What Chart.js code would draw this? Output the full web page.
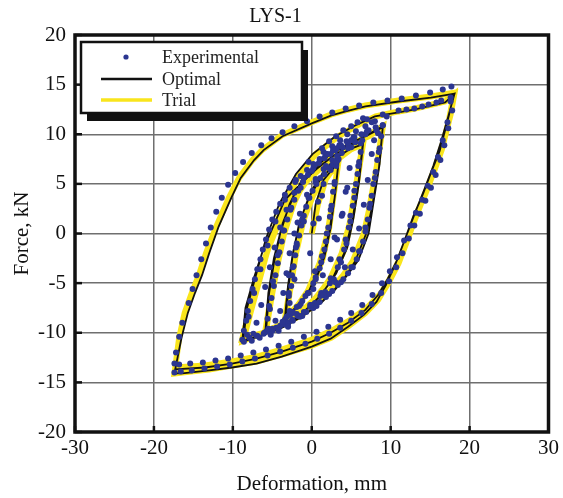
<!DOCTYPE html>
<html>
<head>
<meta charset="utf-8">
<title>LYS-1</title>
<script src="https://cdn.jsdelivr.net/npm/chart.js@4.4.1/dist/chart.umd.min.js"></script>
<style>
  html, body { margin: 0; padding: 0; background: #fff; }
  #wrap { width: 563px; height: 498px; }
</style>
</head>
<body>
<div id="wrap"><canvas id="chart" width="563" height="498"></canvas></div>
<script>
// axis ranges (mm / kN)
const X_RANGE = [-30, 30];
const Y_RANGE = [-20, 20];
const X_STEP = 10;
const Y_STEP = 5;

// "Trial" model response (yellow)
const trialPath = [
  [0,0],[0.8,3],[1.8,5.5],[3.4,7.3],
  [2.8,4],[2.2,0.5],[1.4,-2.5],[0.2,-5],[-1.5,-7],[-3.3,-8.5],
  [-2.6,-5],[-2.0,-2],[-1.2,1],[0,3.6],[1.5,5.6],[3.4,7.3],
  [2.7,3.5],[2.0,0],[1.0,-3],[-0.5,-5.8],[-2,-7.5],[-3.4,-8.6],
  [-2.7,-5.2],[-2.0,-2],[-1,1.5],[0.5,4.5],[2,6.5],[3.5,7.6],[5,8.5],[6.5,9.0],
  [5.7,5],[5.0,1.5],[4.2,-1.5],[2.8,-4],[0.8,-6.3],[-1.5,-8],[-3.8,-9.2],[-5.8,-9.8],
  [-5.0,-6],[-4.3,-3],[-3.5,0],[-2.3,3],[-0.8,5.5],[1.2,7.2],[3.5,8.3],[6.5,9.2],
  [5.6,4.8],[4.8,1],[3.8,-2],[2.2,-4.8],[0,-7],[-2.5,-8.7],[-5.9,-9.9],
  [-5.1,-6],[-4.3,-2.5],[-3.2,1],[-1.8,4],[0,6],[2.5,7.8],[5,9],[7.2,9.8],[9,10.7],
  [8.3,7],[7.4,3],[6.8,0],[5.5,-2.7],[4,-4.2],[2.5,-5.6],[0.5,-7],[-1.5,-8.2],[-4.2,-9.4],[-6.5,-10.1],[-8.8,-10.6],
  [-7.8,-7.5],[-6.7,-4.4],[-5.5,-1.5],[-4.5,0.5],[-2.9,3.4],[-1,5],[1,6.5],[3,7.8],[6.3,9.5],[9.0,10.8],
  [8.2,6.5],[7.3,2.5],[6.6,0],[5.2,-2.8],[3.5,-4.8],[1,-6.8],[-1.5,-8.3],[-4.5,-9.5],[-8.7,-10.8],
  [-7.6,-7.5],[-6.4,-4],[-5.2,-0.5],[-3.5,3],[-1.5,6],[0.5,8],[3.4,9.8],[6,11],[8.1,11.8],[11,12.3],[13.1,12.6],[16.9,13.3],[18,14],
  [17.4,11.5],[16.5,8.5],[15.6,6.5],[14.4,4],[13.3,2],[12.2,-0.5],[11,-3],[9.7,-5],[8.4,-6.7],[6.8,-8],[4.7,-9.3],[2.5,-10.5],[0,-11.3],[-3.8,-12.2],[-7,-12.9],[-10.1,-13.3],[-13,-13.7],[-16.4,-14],[-17.4,-14.1],
  [-16.8,-10.5],[-16.1,-8],[-15.2,-6],[-14.3,-4.2],[-13.4,-2],[-12.1,0.7],[-10.5,3.6],[-9.2,5.6],[-7.5,7.4],[-6.3,8.4],[-3.8,9.9],[0,11.2],[2.5,12],[4.3,12.4],[6.8,12.9],[11,13.4],[15.1,13.8],[18.1,14.2],
  [17.6,12],[16.8,9.5],[15.8,7],[14.6,4.5],[13.5,2.3],[12.4,0],[11.2,-2.5],[10,-4.4],[8.8,-6],[7,-7.5],[4.7,-8.8],[2.5,-9.8],[0,-10.7],[-3.8,-11.7],[-7,-12.4],[-10.1,-12.9],[-13.5,-13.3],[-17.4,-13.5]
];

// "Optimal" model response (black)
const optimalPath = [
  [0,0],[0.5,3],[1.5,5.4],[3.4,7.2],
  [3.0,4.2],[2.4,0.6],[1.6,-2.4],[0.4,-4.9],[-1.3,-6.9],[-3.3,-8.4],
  [-2.9,-5.1],[-2.4,-2.1],[-1.6,1],[-0.4,3.6],[1.2,5.6],[3.4,7.3],
  [2.9,3.6],[2.2,0.1],[1.2,-2.9],[-0.3,-5.7],[-1.8,-7.4],[-3.4,-8.5],
  [-3.0,-5.2],[-2.4,-2],[-1.4,1.5],[0.1,4.5],[1.7,6.5],[3.3,7.7],[4.8,8.5],[6.5,9.0],
  [6.0,5.2],[5.3,1.6],[4.5,-1.4],[3.1,-4],[1.1,-6.3],[-1.3,-8.1],[-3.6,-9.3],[-5.8,-9.9],
  [-5.4,-6],[-4.8,-3],[-4.0,0],[-2.8,3],[-1.2,5.5],[0.8,7.2],[3.2,8.4],[6.5,9.3],
  [5.9,5],[5.1,1.1],[4.1,-2],[2.5,-4.8],[0.3,-7],[-2.3,-8.8],[-5.9,-10],
  [-5.5,-6],[-4.8,-2.5],[-3.7,1],[-2.2,4],[-0.4,6],[2.2,7.9],[4.8,9.1],[7.1,9.9],[9,10.7],
  [8.6,7],[7.8,3],[7.2,0],[5.9,-2.7],[4.4,-4.3],[2.8,-5.8],[0.8,-7.2],[-1.3,-8.4],[-4,-9.6],[-6.4,-10.3],[-8.8,-10.8],
  [-8.4,-7.5],[-7.3,-4.4],[-6.1,-1.5],[-5.0,0.5],[-3.4,3.4],[-1.4,5],[0.6,6.5],[2.7,7.8],[6.0,9.5],[9.0,10.8],
  [8.5,6.5],[7.6,2.5],[6.9,0],[5.5,-2.8],[3.8,-4.9],[1.3,-6.9],[-1.3,-8.4],[-4.3,-9.7],[-8.7,-10.9],
  [-8.2,-7.5],[-7.0,-4],[-5.8,-0.5],[-4.1,3],[-2.0,6],[0.1,8],[3.0,9.8],[5.8,11],[8.0,11.8],[11,12.2],[13.1,12.5],[16.9,13.2],[18,14],
  [17.2,11.3],[16.2,8.3],[15.2,6.3],[14.0,3.8],[12.9,1.8],[11.8,-0.6],[10.6,-3.1],[9.4,-5.2],[8.2,-6.9],[6.6,-8.2],[4.6,-9.4],[2.4,-10.6],[0,-11.4],[-3.8,-12.4],[-7,-13.1],[-10.1,-13.5],[-13,-13.8],[-16.4,-14.1],[-17.4,-14.1],
  [-16.5,-10.5],[-15.7,-8],[-14.8,-6],[-13.9,-4.2],[-13,-2],[-11.8,0.7],[-10.2,3.6],[-9,5.6],[-7.3,7.4],[-6.1,8.4],[-3.7,9.8],[0,11.1],[2.5,11.9],[4.3,12.3],[6.8,12.8],[11,13.3],[15.1,13.7],[18.1,14.1],
  [17.3,11.8],[16.4,9.3],[15.4,6.8],[14.2,4.3],[13.1,2.1],[12,-0.2],[10.8,-2.7],[9.6,-4.6],[8.4,-6.2],[6.8,-7.7],[4.6,-9],[2.4,-10],[0,-10.9],[-3.8,-11.9],[-7,-12.6],[-10.1,-13.1],[-13.5,-13.5],[-17.4,-13.7]
];

// experimental readings, split by amplitude
const expSmall = [
  [0.2,1],[0.8,3.2],[1.5,5],[2.4,6.4],[3.3,7.4],
  [2.9,5],[2.5,2.8],[2.1,0.6],[1.6,-1.6],[1,-3.5],[0.2,-5],[-0.8,-6.3],[-1.9,-7.4],[-2.9,-8.2],[-3.3,-8.6],
  [-2.9,-6.3],[-2.5,-4.2],[-2.1,-2.2],[-1.6,-0.2],[-1,1.8],[-0.3,3.6],[0.6,5],[1.6,6],[2.6,6.9],[3.4,7.5],
  [2.9,5.2],[2.4,2.4],[1.9,0],[1.3,-2.3],[0.5,-4.4],[-0.5,-6],[-1.6,-7.3],[-2.6,-8.1],[-3.4,-8.7],
  [-2.9,-6],[-2.4,-3.4],[-1.9,-1],[-1.2,1.4],[-0.4,3.6],[0.5,5.2],[1.5,6.5],[2.6,7.4],[3.8,8.1],[5,8.7],[6.2,9.1],
  [3.1,6.8],[2.7,4.2],[2.3,1.7],[1.8,-0.8],[1.2,-2.9],[0.5,-4.6],[-0.4,-6],[-1.4,-7.1],[-2.4,-7.9],[-3.2,-8.4],
  [-2.8,-7],[-2.6,-5.3],[-2.3,-3.3],[-1.9,-1.2],[-1.3,0.8],[-0.7,2.7],[0.1,4.3],[1.1,5.6],[2.1,6.6],[3.1,7.2],
  [0.4,-3.8],[-0.2,-2],[0.9,1.5],[1.3,3.8],[-1.8,1.1],[-2.2,-4.6]
];
const expMid = [
  [6.0,7.2],[5.6,5],[5.2,2.8],[4.7,0.6],[4.1,-1.6],[3.3,-3.4],[2.3,-5],[1.1,-6.3],[-0.2,-7.4],[-1.6,-8.3],[-3,-9],[-4.5,-9.5],[-5.8,-9.9],
  [-5.3,-7.6],[-4.8,-5.3],[-4.3,-3],[-3.8,-0.8],[-3.1,1.4],[-2.2,3.4],[-1.1,5.2],[0.2,6.6],[1.6,7.6],[3,8.4],[4.6,9],[6.4,9.4],
  [5.9,6.8],[5.4,4.3],[4.9,1.8],[4.3,-0.6],[3.5,-2.6],[2.4,-4.5],[1.2,-6],[-0.2,-7.2],[-1.8,-8.3],[-3.4,-9.1],[-5,-9.6],[-6,-10],
  [-5.4,-7.3],[-4.9,-4.8],[-4.3,-2.2],[-3.6,0.3],[-2.6,2.6],[-1.4,4.6],[0,6.3],[1.6,7.6],[3.2,8.6],[5,9.4],[6.8,10],[8.2,10.4],[9,10.9],
  [6.2,8.2],[5.8,6],[5.4,3.6],[4.9,1.2],[4.4,-1],[3.7,-2.9],[2.8,-4.6],[1.7,-5.9],[0.4,-7],[-1,-7.9],[-2.5,-8.7],[-4,-9.3],[-5.4,-9.7],
  [-5.6,-8.6],[-5.1,-6.5],[-4.6,-4.2],[-4.1,-1.9],[-3.5,0.3],[-2.7,2.4],[-1.7,4.3],[-0.5,5.9],[0.9,7.1],[2.4,8],[3.9,8.7],[5.5,9.2],
  [4.5,4.6],[3.9,2],[2.9,-0.4],[-2.9,-4.2],[-2,-1.4],[-1,1.2]
];
const expLarge = [
  [8.6,8.6],[8.1,6.2],[7.6,3.8],[7.1,1.4],[6.5,-0.8],[5.7,-2.6],[4.6,-4],[3.3,-5.2],[1.8,-6.4],[0.2,-7.5],[-1.5,-8.4],[-3.3,-9.2],[-5.2,-9.8],[-7,-10.3],[-8.8,-10.7],
  [-8.3,-8.8],[-7.8,-6.8],[-7.2,-4.6],[-6.5,-2.6],[-5.8,-0.6],[-5,1.4],[-4,3],[-2.8,4.6],[-1.4,5.8],[0.2,7],[1.8,8],[3.5,8.9],[5.3,9.7],[7.2,10.4],[9,10.9],
  [8.5,8.2],[8,5.6],[7.4,3],[6.8,0.6],[6,-1.8],[5,-3.4],[3.7,-4.9],[2.2,-6.1],[0.6,-7.3],[-1.2,-8.3],[-3,-9.1],[-5,-9.8],[-6.9,-10.3],[-8.6,-10.9],
  [-8,-8.4],[-7.3,-6],[-6.5,-3.6],[-5.6,-1.2],[-4.6,1.2],[-3.4,3.4],[-2,5.4],[-0.4,7.2],[1.3,8.6],[3.1,9.8],[5,10.8],[7,11.5],[9,12],[11,12.4],[13,12.6],[14.8,13],[16.4,13.4],[17.6,13.7],
  [8.8,9.8],[8.3,7.4],[7.8,5],[7.3,2.6],[6.8,0.2],[6.1,-1.8],[5.2,-3.4],[4,-4.6],[2.6,-5.8],[1,-6.9],[-0.7,-7.9],[-2.4,-8.8],[-4.2,-9.5],[-6.1,-10.1],[-7.9,-10.5],
  [-8.6,-9.8],[-8.1,-7.8],[-7.5,-5.6],[-6.9,-3.6],[-6.2,-1.6],[-5.4,0.4],[-4.5,2.2],[-3.4,3.9],[-2.1,5.2],[-0.6,6.4],[1,7.5],[2.7,8.4],[4.4,9.3],[6.3,10],[8.1,10.7],
  [5.8,11.2],[4,10.4],[2.2,9.3],[6.5,11.6],[8,11.3],[9.5,11.8],[12,12.5],[14,12.8],[15.8,13.2]
];
// extra readings where the inner cycles overlap
const expDense = [
  [-7.0,-9.0],[-6.4,-7.2],[-5.9,-5.4],[-5.3,-3.4],[-4.7,-1.4],[-4.0,0.6],[-3.2,2.4],[-2.2,4.1],[-1.0,5.6],[0.4,6.9],[2.0,8.0],[3.7,8.9],[5.4,9.7],[7.0,10.3],
  [-4.0,-7.8],[-3.6,-6.0],[-3.2,-4.0],[-2.8,-2.0],[-2.2,0.0],[-1.5,2.0],[-0.6,3.9],[0.5,5.5],[1.8,6.8],[3.2,7.8],[4.6,8.6],
  [7.6,8.0],[7.1,5.4],[6.6,2.9],[6.0,0.5],[5.2,-1.6],[4.2,-3.4],[3.0,-4.9],[1.5,-6.2],[-0.1,-7.2],[-1.9,-8.1],[-3.7,-8.9],[-5.5,-9.6],[-7.4,-10.1],
  [4.8,6.6],[4.3,4.2],[3.8,1.8],[3.2,-0.6],[2.4,-2.6],[1.4,-4.2],[0.2,-5.6],[-1.2,-6.8],[-2.8,-7.8],[-4.6,-8.8],
  [4.5,10.0],[5.6,10.3],[6.8,10.8],[7.6,11.2],[3.6,9.4],[2.6,8.8],[1.5,8.2],[8.4,10.1],[7.9,9.4],
  [-7.6,-10.8],[-6.6,-10.5],[-5.2,-10.2],[-4.2,-9.8],[-3.0,-9.4],[-8.2,-10.2]
];
const expBig = [
  [17.8,12.4],[17.3,10.6],[16.8,8.9],[16.3,7.4],[15.7,5.9],[15.1,4.6],[14.4,3.3],[13.7,2],[13,0.8],[12.3,-0.5],[11.5,-2],[10.7,-3.4],[9.8,-4.8],[8.8,-6],[7.6,-7.1],[6.3,-8],[5,-8.8],[3.6,-9.5],[2.2,-10.1],[0.7,-10.6],[-0.8,-11.1],[-2.4,-11.5],[-4,-11.9],[-5.6,-12.3],[-7.2,-12.6],[-8.8,-12.9],[-10.4,-13.2],[-12,-13.4],[-13.6,-13.6],[-15.2,-13.8],[-16.6,-13.9],[-17.4,-14],
  [-17.2,-12],[-16.8,-10.4],[-16.4,-9],[-15.6,-7],[-15.1,-5.6],[-14.6,-4.2],[-14,-2.6],[-13.4,-1],[-12.8,0.6],[-12.1,2.2],[-11.4,3.6],[-10.6,4.9],[-9.7,6.1],[-8.7,7.2],[-7.6,8.1],[-6.4,8.9],[-5.1,9.6],[-3.7,10.2],[-2.2,10.8],[-0.6,11.3],[1,11.8],[2.6,12.2],[4.3,12.6],[6,12.9],[7.8,13.2],[9.6,13.4],[11.4,13.6],[13.2,13.9],[15,14.2],[16.6,14.5],[17.7,14.8],
  [17.6,13.3],[17.2,11.2],[16.6,9.4],[16,7.7],[15.4,6.2],[14.7,4.8],[14,3.4],[13.2,2.1],[12.5,0.8],[11.7,-0.7],[10.8,-2.4],[9.9,-3.8],[8.9,-5],[7.7,-6.2],[6.4,-7.2],[5,-8],[3.6,-8.7],[2.1,-9.4],[0.6,-9.9],[-1,-10.4],[-2.6,-10.9],[-4.2,-11.3],[-5.8,-11.7],[-7.4,-12],[-9,-12.3],[-10.6,-12.6],[-12.2,-12.8],[-13.8,-13],[-15.4,-13.1],[-16.8,-13.2],[-17.4,-13.1]
];

const SERIF = "'Liberation Serif', 'DejaVu Serif', serif";
const DOT_COLOR = "#2b3590";
const TRIAL_COLOR = "#f9e51c";

function toXY(pairs) {
  return pairs.map(([x, y]) => ({ x, y }));
}

// frame + inward tick marks
const framePlugin = {
  id: "frame",
  afterDatasetsDraw(chart) {
    const { ctx, chartArea: a, scales } = chart;
    ctx.save();
    ctx.strokeStyle = "#111";
    ctx.lineWidth = 2.5;
    scales.x.ticks.forEach((t) => {
      const px = scales.x.getPixelForValue(t.value);
      ctx.beginPath();
      ctx.moveTo(px, a.bottom);
      ctx.lineTo(px, a.bottom - 6);
      ctx.stroke();
    });
    scales.y.ticks.forEach((t) => {
      const py = scales.y.getPixelForValue(t.value);
      ctx.beginPath();
      ctx.moveTo(a.left, py);
      ctx.lineTo(a.left + 7, py);
      ctx.stroke();
    });
    ctx.lineWidth = 3.5;
    ctx.strokeRect(a.left, a.top, a.right - a.left, a.bottom - a.top);
    ctx.restore();
  },
};

// boxed legend with drop shadow, inside the plot
const boxLegend = {
  id: "boxLegend",
  afterDraw(chart) {
    const { ctx, chartArea: a } = chart;
    const x = a.left + 6, y = a.top + 7, w = 221, h = 71;
    ctx.save();
    ctx.fillStyle = "#111";
    ctx.fillRect(x + 6, y + 8, w, h);
    ctx.fillStyle = "#fff";
    ctx.fillRect(x, y, w, h);
    ctx.strokeStyle = "#111";
    ctx.lineWidth = 2.5;
    ctx.strokeRect(x, y, w, h);
    ctx.font = "18px " + SERIF;
    ctx.textBaseline = "middle";
    const rows = [15, 37, 58];
    chart.data.datasets.forEach((ds, i) => {
      const cy = y + rows[i];
      if (ds.showLine) {
        ctx.strokeStyle = ds.borderColor;
        ctx.lineWidth = i === 2 ? 3.5 : 2.5;
        ctx.beginPath();
        ctx.moveTo(x + 20, cy);
        ctx.lineTo(x + 71, cy);
        ctx.stroke();
      } else {
        ctx.fillStyle = ds.pointBackgroundColor;
        ctx.beginPath();
        ctx.arc(x + 45, cy, 2.6, 0, Math.PI * 2);
        ctx.fill();
      }
      ctx.fillStyle = "#222";
      ctx.fillText(ds.label, x + 81, cy + 1);
    });
    ctx.restore();
  },
};

new Chart(document.getElementById("chart"), {
  type: "scatter",
  data: {
    datasets: [
      {
        label: "Experimental",
        data: toXY([...expSmall, ...expMid, ...expLarge, ...expDense, ...expBig]),
        showLine: false,
        pointRadius: 3,
        pointBorderWidth: 0,
        pointBackgroundColor: DOT_COLOR,
        order: 0,
      },
      {
        label: "Optimal",
        data: toXY(optimalPath),
        showLine: true,
        borderColor: "#111",
        borderWidth: 1.8,
        pointRadius: 0,
        tension: 0,
        order: 1,
      },
      {
        label: "Trial",
        data: toXY(trialPath),
        showLine: true,
        borderColor: TRIAL_COLOR,
        borderWidth: 6,
        pointRadius: 0,
        tension: 0,
        order: 2,
      },
    ],
  },
  options: {
    responsive: false,
    animation: false,
    layout: { padding: { left: 0, right: 12, top: 0, bottom: 0 } },
    plugins: {
      legend: { display: false },
      tooltip: { enabled: false },
      title: {
        display: true,
        text: "LYS-1",
        color: "#111",
        font: { family: SERIF, size: 20, weight: "normal" },
        padding: { top: 5, bottom: 6 },
      },
    },
    scales: {
      x: {
        type: "linear",
        min: X_RANGE[0],
        max: X_RANGE[1],
        ticks: { stepSize: X_STEP, color: "#111", padding: 4, font: { family: SERIF, size: 21 } },
        grid: { color: "#6f6f6f", lineWidth: 1.5, drawTicks: false },
        border: { display: false },
        title: {
          display: true,
          text: "Deformation, mm",
          color: "#111",
          font: { family: SERIF, size: 21 },
          padding: { top: 0, bottom: 1 },
        },
        afterFit(scale) { scale.height = 66; },
      },
      y: {
        type: "linear",
        min: Y_RANGE[0],
        max: Y_RANGE[1],
        ticks: { stepSize: Y_STEP, color: "#111", padding: 9, font: { family: SERIF, size: 21 } },
        grid: { color: "#6f6f6f", lineWidth: 1.5, drawTicks: false },
        border: { display: false },
        title: {
          display: true,
          text: "Force, kN",
          color: "#111",
          font: { family: SERIF, size: 21 },
          padding: { top: 10, bottom: 0 },
        },
        afterFit(scale) { scale.width = 75; },
      },
    },
  },
  plugins: [framePlugin, boxLegend],
});
</script>
</body>
</html>
